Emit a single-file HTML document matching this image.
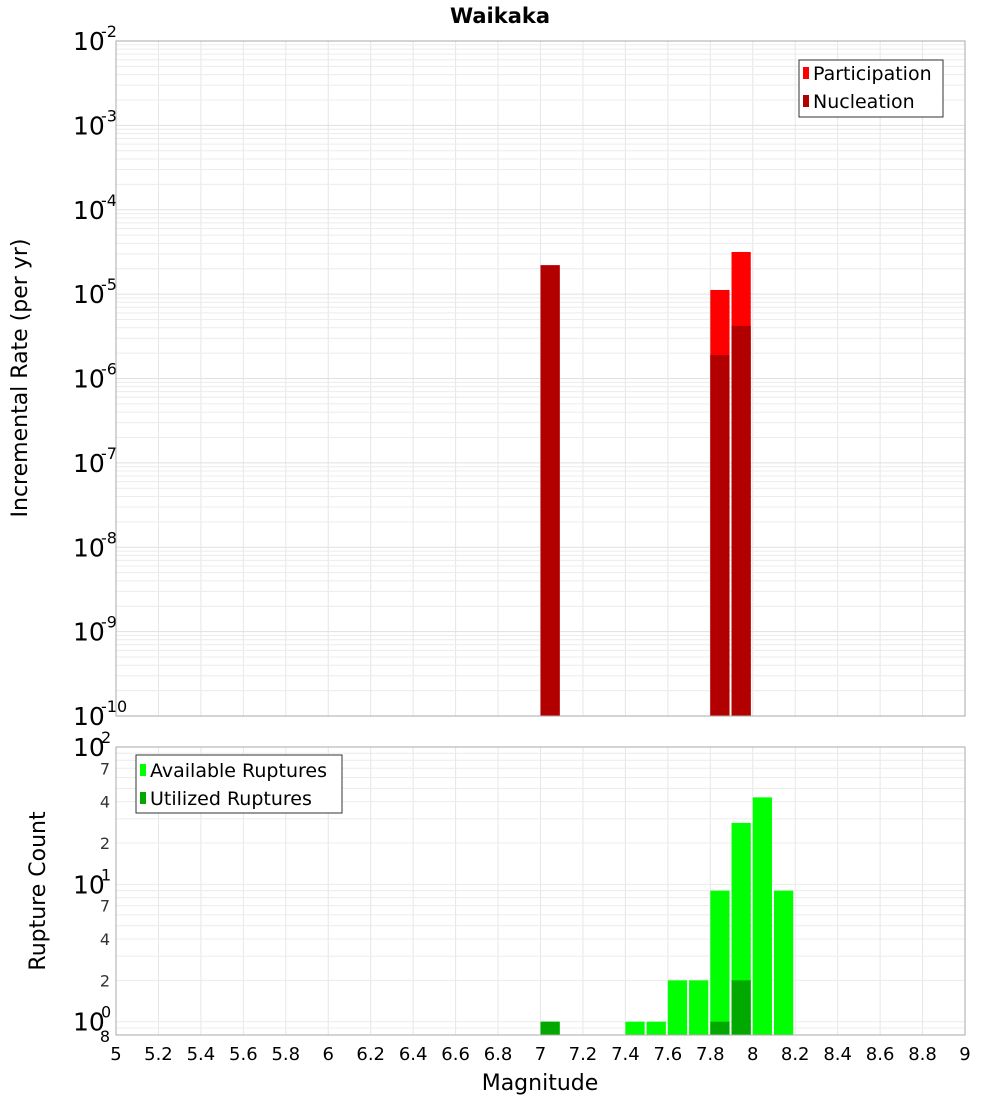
<!DOCTYPE html>
<html><head><meta charset="utf-8"><style>
body{margin:0;background:#fff}
svg text{font-family:"DejaVu Sans","Liberation Sans",sans-serif}
</style></head><body>
<svg id="c" width="1000" height="1100" xmlns="http://www.w3.org/2000/svg">
<text x="500" y="23" text-anchor="middle" font-size="21" font-weight="bold">Waikaka</text>
<text transform="translate(27,378) rotate(-90)" text-anchor="middle" font-size="22">Incremental Rate (per yr)</text>
<text transform="translate(45,891) rotate(-90)" text-anchor="middle" font-size="22">Rupture Count</text>
<text x="540" y="1090" text-anchor="middle" font-size="22">Magnitude</text>
<g id="grid"></g><g id="bars"></g><g id="ticks"></g>
<rect x="116" y="41" width="849" height="675" fill="none" stroke="#aaa"/>
<rect x="116" y="747" width="849" height="288" fill="none" stroke="#aaa"/>
<g>
<rect x="799" y="60" width="144" height="57" fill="#fff" stroke="#333"/>
<rect x="803" y="67" width="6" height="12" fill="#ff0000"/>
<text x="813" y="80" font-size="19">Participation</text>
<rect x="803" y="95" width="6" height="12" fill="#b20000"/>
<text x="813" y="108" font-size="19">Nucleation</text>
</g>
<g>
<rect x="136" y="755" width="206" height="58" fill="#fff" stroke="#333"/>
<rect x="140" y="764" width="6" height="12" fill="#00ff00"/>
<text x="150" y="777" font-size="19">Available Ruptures</text>
<rect x="140" y="792" width="6" height="12" fill="#00a800"/>
<text x="150" y="805" font-size="19">Utilized Ruptures</text>
</g>
</svg>
<script>
const mags=[7.0,7.8,7.9];
const participation=[2.2e-5,1.12e-5,3.16e-5];
const nucleation=[2.2e-5,1.9e-6,4.2e-6];
const countMags=[7.0,7.4,7.5,7.6,7.7,7.8,7.9,8.0,8.1];
const available=[1,1,1,2,2,9,28,43,9];
const utilizedMags=[7.0,7.8,7.9];
const utilized=[1,1,2];
const xTicks=[5,5.2,5.4,5.6,5.8,6,6.2,6.4,6.6,6.8,7,7.2,7.4,7.6,7.8,8,8.2,8.4,8.6,8.8,9];
const topExps=[-2,-3,-4,-5,-6,-7,-8,-9,-10];
const botExps=[2,1,0];
const botMinor=[2,4,7];

const NS="http://www.w3.org/2000/svg";
const X=m=>116+(m-5)*849/4;
const YT=v=>41+(-2-Math.log10(v))*675/8;
const YB=v=>747+(2-Math.log10(v))*288/Math.log10(100/0.8);
function mk(p,t,a){const e=document.createElementNS(NS,t);for(const k in a)e.setAttribute(k,a[k]);document.getElementById(p).appendChild(e);return e;}
// grid
for(const m of xTicks){
 const l1=mk('grid','line',{x1:X(m),x2:X(m),y1:41,y2:716,stroke:'#e6e6e6'});
 
 
 const l2=mk('grid','line',{x1:X(m),x2:X(m),y1:747,y2:1035,stroke:'#e6e6e6'});
 
 
 const t=mk('ticks','text',{x:X(m),y:1060,'text-anchor':'middle','font-size':18});
 
 
 t.textContent=String(m);
}
for(let e=-10;e<-2;e++)for(let k=1;k<10;k++){
 const v=k*Math.pow(10,e);const y=YT(v);
 const l=mk('grid','line',{x1:116,x2:965,y1:y,y2:y,stroke:k==1?'#e0e0e0':'#ececec'});
 
 
}
for(let e=-1;e<2;e++)for(let k=1;k<10;k++){
 const v=k*Math.pow(10,e);if(v<0.8)continue;const y=YB(v);
 const l=mk('grid','line',{x1:116,x2:965,y1:y,y2:y,stroke:'#ececec'});
 
 
}
function expLabel(y,e,nm){
 const t=mk('ticks','text',{x:73,y:y+9,'font-size':25});
 
 
 t.textContent='10';
 const s=mk('ticks','text',{x:101,y:y-4,'font-size':16});
 
 
 s.textContent=String(e);
}
for(const e of topExps)expLabel(YT(Math.pow(10,e)),e,'top-y-tick-label');
for(const e of botExps)expLabel(YB(Math.pow(10,e)),e,'bottom-y-tick-label');
for(const e of [0,1])for(const k of botMinor){
 const t=mk('ticks','text',{x:110,y:YB(k*Math.pow(10,e))+6,'text-anchor':'end','font-size':16,fill:'#333'});
 
 
 t.textContent=String(k);
}
{const t=mk('ticks','text',{x:110,y:YB(0.8)+7,'text-anchor':'end','font-size':16});
 
 
 t.textContent='8';}
// bars
function bar(m,y,bot,fill,nm){
 const r=mk('bars','rect',{x:X(m),y:y,width:X(m+0.1)-X(m)-2,height:bot-y,fill:fill});
 
 
}
mags.forEach((m,i)=>bar(m,YT(participation[i]),716,'#ff0000','participation-bar'));
mags.forEach((m,i)=>bar(m,YT(nucleation[i]),716,'#b20000','nucleation-bar'));
countMags.forEach((m,i)=>bar(m,YB(available[i]),1035,'#00ff00','available-bar'));
utilizedMags.forEach((m,i)=>bar(m,YB(utilized[i]),1035,'#00a800','utilized-bar'));
</script>
</body></html>
